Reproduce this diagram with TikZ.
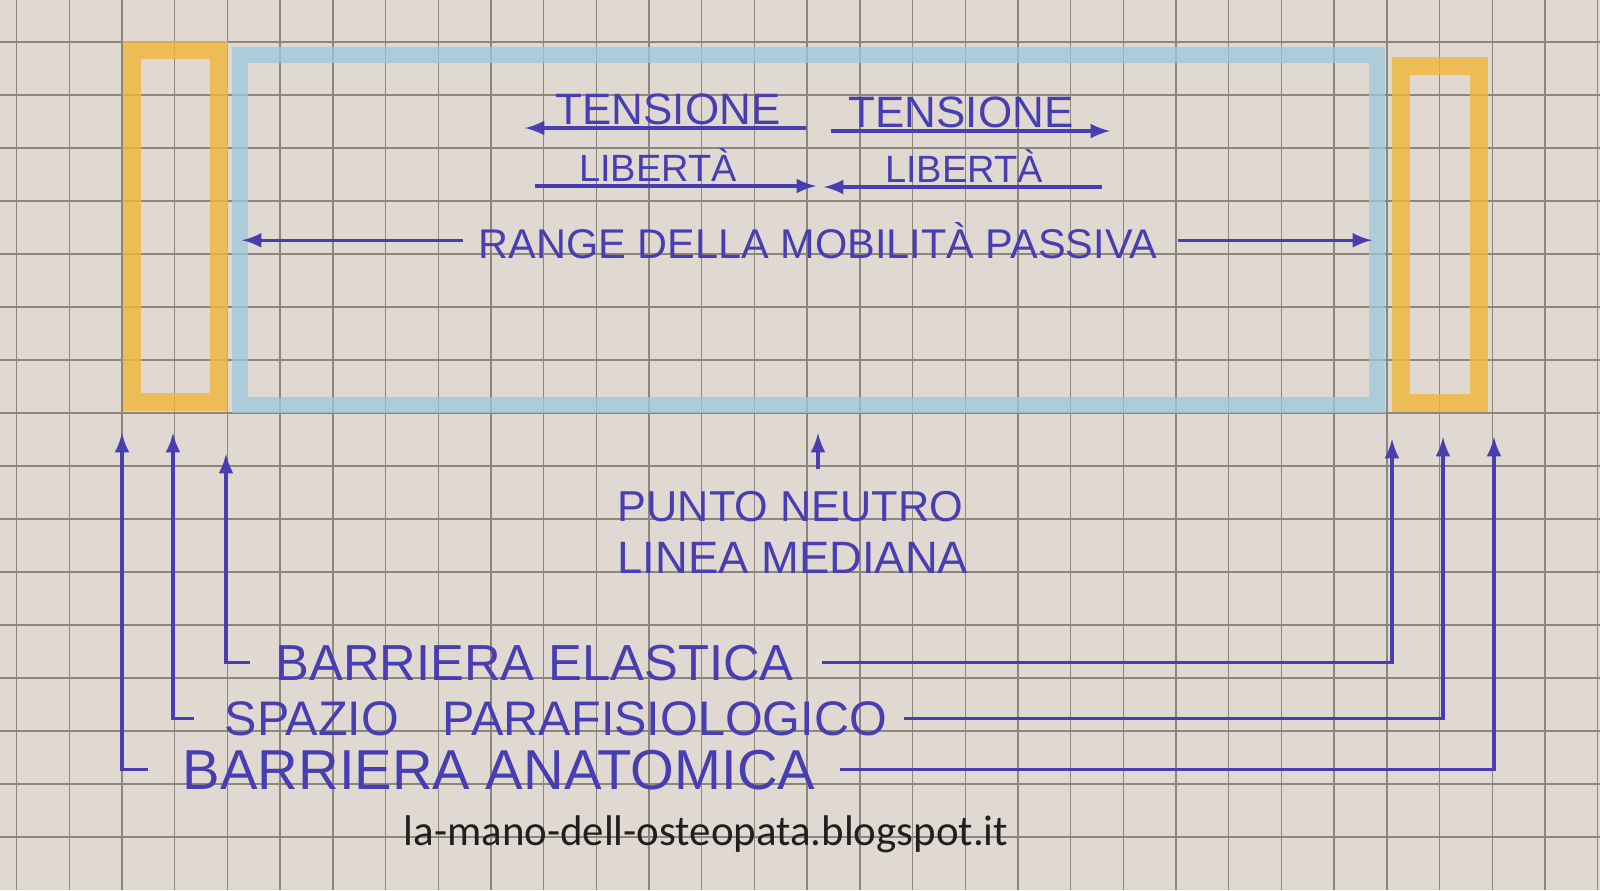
\documentclass[tikz,border=0pt]{standalone}
\usepackage{fontspec}
\newfontfamily\handfont{Liberation Sans}
\newfontfamily\webfont{Carlito}
\usetikzlibrary{arrows}

\definecolor{paper}{RGB}{223,217,209}
\definecolor{gridgray}{RGB}{140,134,124}
\definecolor{ink}{RGB}{72,62,178}
\definecolor{pastel}{RGB}{156,200,222}
\definecolor{crayon}{RGB}{240,182,56}

\begin{document}
\begin{tikzpicture}[x=0.01cm,y=-0.01cm,
    pen/.style={color=ink,line width=0.9pt},
    txt/.style={color=ink,inner sep=0pt,anchor=base}]

    % the squared paper
    \fill[paper] (0,0) rectangle (1600,890);
    \useasboundingbox (0,0) rectangle (1600,890);
    \foreach \i in {-2,...,28}
        \draw[gridgray,line width=0.4pt] ({122+52.7*\i},0) -- ({122+52.7*\i},890);
    \foreach \k in {-7,...,8}
        \draw[gridgray,line width=0.4pt] (0,{413+53*\k}) -- (1600,{413+53*\k});

    % coloured boxes
    \draw[crayon,opacity=0.8,line width=5.2pt] (132,50) rectangle (219,402);
    \draw[pastel,opacity=0.75,line width=4.6pt] (240,55) rectangle (1377,405);
    \draw[crayon,opacity=0.8,line width=5.2pt] (1401,66) rectangle (1479,403);

    % tension / freedom
    \node[txt,font=\handfont\fontsize{12.5}{14}\selectfont] (tenL) at (668,124) {TENSIONE};
    \node[txt,font=\handfont\fontsize{12.5}{14}\selectfont] (tenR) at (961,127) {TENSIONE};
    \node[txt,font=\handfont\fontsize{10.8}{12}\selectfont] (libL) at (658,181) {LIBERTÀ};
    \node[txt,font=\handfont\fontsize{10.8}{12}\selectfont] (libR) at (964,182) {LIBERTÀ};

    \coordinate (tenLa) at (806,128);  \coordinate (tenLb) at (525,128);
    \coordinate (tenRa) at (831,131);  \coordinate (tenRb) at (1110,131);
    \coordinate (libLa) at (535,186);  \coordinate (libLb) at (816,186);
    \coordinate (libRa) at (1102,187); \coordinate (libRb) at (824,187);
    \draw[pen,-latex] (tenLa) -- (tenLb);
    \draw[pen,-latex] (tenRa) -- (tenRb);
    \draw[pen,-latex] (libLa) -- (libLb);
    \draw[pen,-latex] (libRa) -- (libRb);

    % range of passive mobility
    \node[txt,font=\handfont\fontsize{11.8}{14}\selectfont] (range) at (818,258) {RANGE DELLA MOBILITÀ PASSIVA};
    \coordinate (rangeL) at (242,238);
    \coordinate (rangeR) at (1372,244);
    \draw[pen,-latex] ([xshift=-0.15cm]range.west) -- (rangeL |- range.west);
    \draw[pen,-latex] ([xshift=0.2cm]range.east) -- (rangeR |- range.east);

    % neutral point
    \node[txt,anchor=base west,font=\handfont\fontsize{12.3}{14}\selectfont] (punto) at (617,521) {PUNTO NEUTRO};
    \node[txt,anchor=base west,font=\handfont\fontsize{12.9}{14}\selectfont] (linea) at (617,573) {LINEA MEDIANA};
    \coordinate (neutro) at (818,469);
    \coordinate (mid) at (818,433);
    \draw[pen,-latex] (neutro) -- (mid);

    % barriers
    \node[txt,anchor=base west,font=\handfont\fontsize{14.4}{16}\selectfont] (ela) at (275,680) {BARRIERA ELASTICA};
    \node[txt,anchor=base west,font=\handfont\fontsize{13.8}{16}\selectfont] (spazio) at (224,735) {SPAZIO\hspace{0.9em}PARAFISIOLOGICO};
    \node[txt,anchor=base west,font=\handfont\fontsize{16}{18}\selectfont] (anat) at (182,789) {BARRIERA ANATOMICA};

    \coordinate (elaL) at (226,454);   \coordinate (elaR) at (1392,439);
    \coordinate (spaL) at (173,433);   \coordinate (spaR) at (1443,437);
    \coordinate (anaL) at (122,433);   \coordinate (anaR) at (1494,437);

    \draw[pen,-latex] ([xshift=-0.25cm]ela.west) -| (elaL);
    \draw[pen,-latex] ([xshift=0.28cm]ela.east) -| (elaR);
    \draw[pen,-latex] ([xshift=-0.3cm]spazio.west) -| (spaL);
    \draw[pen,-latex] ([xshift=0.16cm]spazio.east) -| (spaR);
    \draw[pen,-latex] ([xshift=-0.34cm]anat.west) -| (anaL);
    \draw[pen,-latex] ([xshift=0.24cm]anat.east) -| (anaR);

    % blog
    \node[font=\webfont\fontsize{12.2}{14}\selectfont,color=black!88] (blog) at (706,834) {la-mano-dell-osteopata.blogspot.it};

\end{tikzpicture}
\end{document}
